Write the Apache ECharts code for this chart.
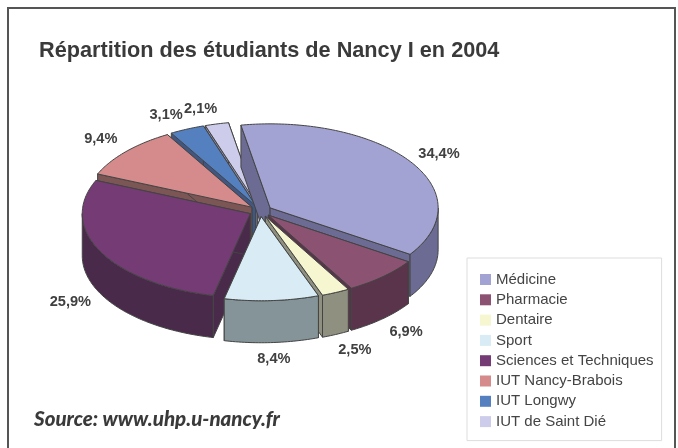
<!DOCTYPE html>
<html>
<head>
<meta charset="utf-8">
<style>html,body{margin:0;padding:0;background:#fff}#c{width:678px;height:448px}</style>
<script src="https://cdn.jsdelivr.net/npm/echarts@6/dist/echarts.min.js"></script>
</head>
<body>
<div id="c"></div>
<script>
var categories = ['Médicine','Pharmacie','Dentaire','Sport','Sciences et Techniques','IUT Nancy-Brabois','IUT Longwy','IUT de Saint Dié'];
var values = [34.4,6.9,2.5,8.4,25.9,9.4,3.1,2.1];
var topColors = ['#A3A3D3','#8C5272','#F6F6D0','#D9EBF5','#743B75','#D58B8B','#5580C0','#CDCDEB'];
var wallColors = ['#6B6B93','#59344B','#8F9080','#849498','#4A2A4A','#7C5555','#3F5782','#8A8AA8'];
var drawOrder = [7,6,5,0,4,1,2,3];
var labelNudgeX = [0,0,5,0,0,0,-7,-8];
var labelNudgeY = [0,0,-1,-2,0,-2,0,0];

var CX = 260.5, CY = 211, RX = 168, RY = 84, DEPTH = 42, EXPLODE = 11.5, START = 350;
var total = values.reduce(function(a,b){return a+b;},0);
var rad = Math.PI/180;

function ptAt(ox,oy,deg,dz){
  return [ox + Math.sin(deg*rad)*RX, oy - Math.cos(deg*rad)*RY + (dz||0)];
}
function fmt(v){ return v.toFixed(1).replace('.',',') + '%'; }

function makeRender(idx){
  return function(params, api){
    var val = api.value(0);
    var before = 0;
    for (var k=0;k<idx;k++) before += values[k];
    var a0 = START + before/total*360;
    var a1 = a0 + val/total*360;
    var mid = (a0+a1)/2;
    var ox = CX + Math.sin(mid*rad)*EXPLODE;
    var oy = CY - Math.cos(mid*rad)*EXPLODE*RY/RX;
    var edge = {stroke:'#444', lineWidth:1, lineJoin:'round'};
    var top = [[ox,oy]];
    var n = Math.max(2, Math.ceil(a1-a0));
    for (var i=0;i<=n;i++) top.push(ptAt(ox,oy,a0+(a1-a0)*i/n));
    var children = [];
    function wall(pts){
      children.push({type:'polygon',shape:{points:pts},style:Object.assign({fill:wallColors[idx]},edge)});
    }
    [a0,a1].forEach(function(a){
      var p = ptAt(ox,oy,a);
      wall([[ox,oy],p,[p[0],p[1]+DEPTH],[ox,oy+DEPTH]]);
    });
    // outer rim: only the part of the arc facing the viewer
    for (var turn=0;turn<2;turn++){
      var lo = Math.max(a0, 90+360*turn), hi = Math.min(a1, 270+360*turn);
      if (hi>lo){
        var up=[],down=[];
        var m = Math.max(2, Math.ceil(hi-lo));
        for (var j=0;j<=m;j++){
          var t = lo+(hi-lo)*j/m;
          up.push(ptAt(ox,oy,t));
          down.unshift(ptAt(ox,oy,t,DEPTH));
        }
        wall(up.concat(down));
      }
    }
    children.push({type:'polygon',shape:{points:top},style:Object.assign({fill:topColors[idx]},edge)});
    var front = Math.cos(mid*rad) < 0;
    children.push({type:'text',style:{
      text: fmt(val),
      x: CX + Math.sin(mid*rad)*RX*1.27 + labelNudgeX[idx],
      y: CY - Math.cos(mid*rad)*RY*1.27 + (front?DEPTH:0) + 1 + labelNudgeY[idx],
      align:'center', verticalAlign:'middle',
      fontFamily:'"Liberation Sans", Arial, sans-serif', fontWeight:'bold', fontSize:14.6, fill:'#404040'
    }});
    return {type:'group',children:children};
  };
}

var series = drawOrder.map(function(idx){
  return {
    type:'custom', name:categories[idx], coordinateSystem:'none',
    data:[[values[idx]]], itemStyle:{color:topColors[idx]},
    renderItem:makeRender(idx), silent:true, animation:false
  };
});

var chart = echarts.init(document.getElementById('c'),null,{renderer:'canvas'});
chart.setOption({
  backgroundColor:'#fff',
  animation:false,
  title:{
    text:'Répartition des étudiants de Nancy I en 2004',
    left:39, top:40, padding:0,
    textStyle:{fontFamily:'"Liberation Sans", Arial, sans-serif',fontWeight:'bold',fontSize:21.7,color:'#3a3a3a'}
  },
  legend:{
    data:categories, orient:'vertical', left:467, top:258,
    icon:'rect', itemWidth:11, itemHeight:11, itemGap:5.3,
    padding:[14,8,11.5,13], backgroundColor:'#fff', borderColor:'#DDDDDD', borderWidth:1,
    selectedMode:false,
    textStyle:{fontFamily:'"Liberation Sans", Arial, sans-serif',fontSize:15,color:'#444',padding:[0,0,0,0]}
  },
  graphic:[
    {type:'rect',shape:{x:8,y:8,width:667,height:470},style:{fill:'none',stroke:'#555',lineWidth:2},silent:true,z:-1},
    {type:'text',left:34,top:409,style:{text:'Source: www.uhp.u-nancy.fr',fontFamily:'Lato, sans-serif',fontWeight:900,fontStyle:'italic',fontSize:20.5,fill:'#3a3a3a'},silent:true}
  ],
  series:series
});
</script>
</body>
</html>
